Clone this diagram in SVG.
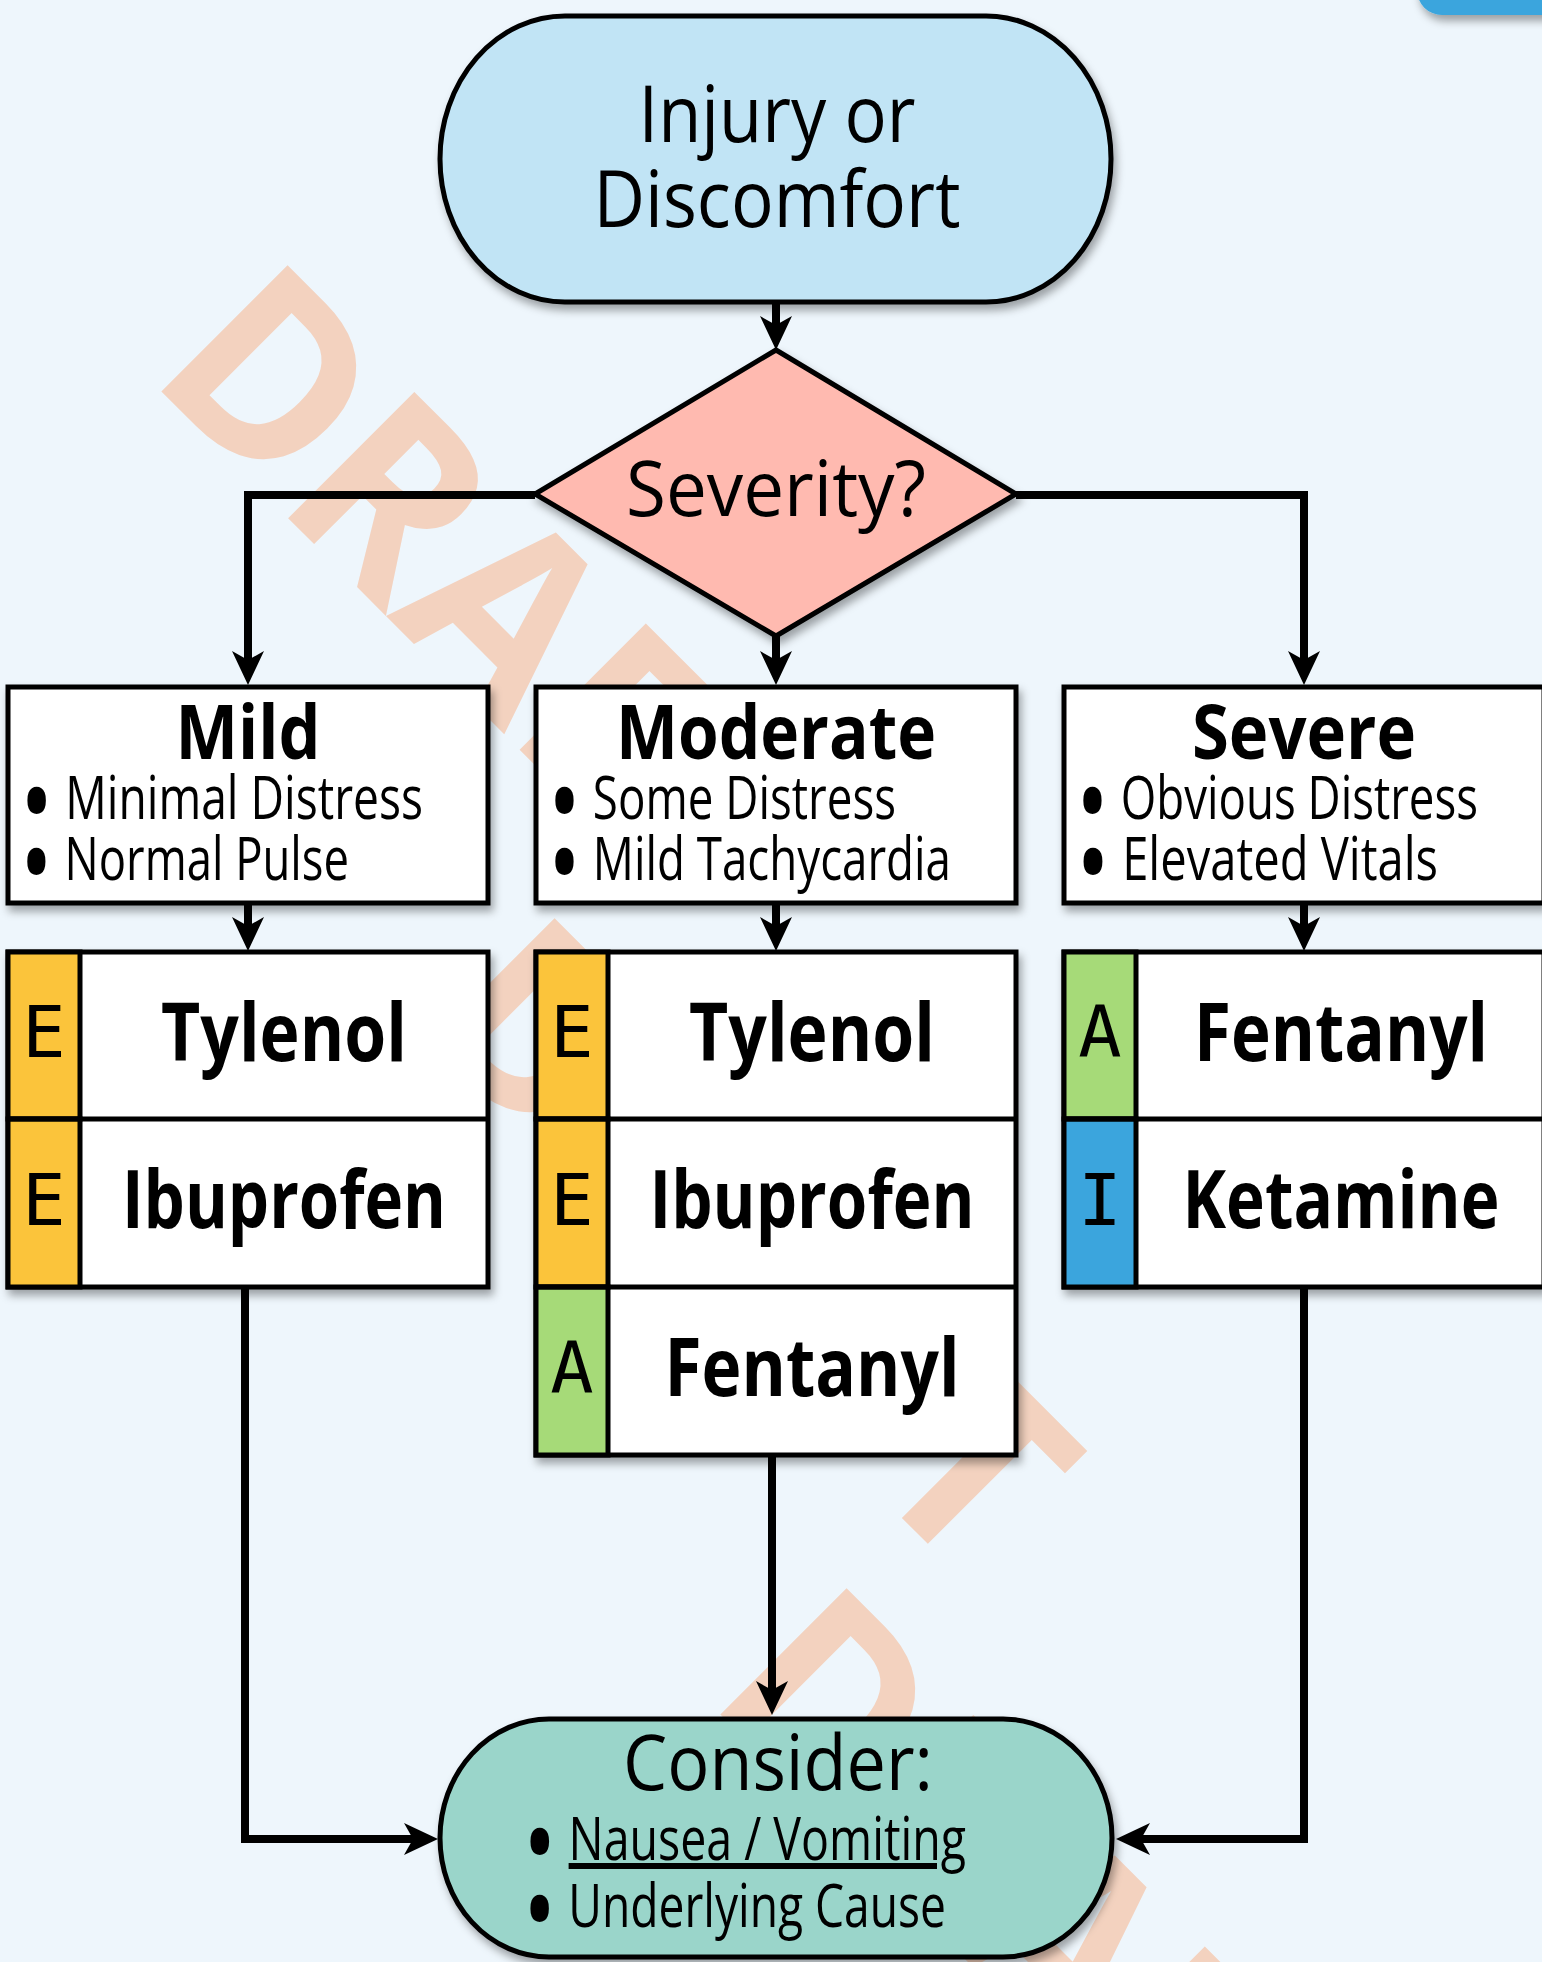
<svg xmlns="http://www.w3.org/2000/svg" width="1542" height="1962" viewBox="0 0 1542 1962">
<defs>
<style>
.node{stroke:#000;stroke-width:5;filter:url(#sh)}
.cell{stroke:#000;stroke-width:5}
.t{font-family:"Open Sans","Noto Sans","DejaVu Sans",sans-serif;fill:#000}
.b{font-weight:bold}
.bu{font-size:115px}
.mono{font-family:"DejaVu Sans Mono","Liberation Mono",monospace;fill:#000;font-size:72px;text-anchor:middle}
.c{text-anchor:middle}
.conn{fill:none;stroke:#000;stroke-width:8;stroke-linejoin:miter}
.wm{font-family:"Open Sans","DejaVu Sans",sans-serif;font-weight:bold;fill:#F3D2BF;font-size:250px}
</style>
<filter id="sh" x="-10%" y="-10%" width="130%" height="130%">
<feDropShadow dx="3" dy="6" stdDeviation="4" flood-color="#000" flood-opacity="0.35"/>
</filter>
<marker id="ah" markerUnits="userSpaceOnUse" markerWidth="40" markerHeight="40" viewBox="0 -20 40 40" refX="9" refY="0" orient="auto">
<path d="M0,-16 L34,0 L0,16 L9,0 Z" fill="#000"/>
</marker>
</defs>
<rect x="0" y="0" width="1542" height="1962" fill="#EEF6FC"/>
<g id="watermark">
<text class="wm" transform="translate(146,376) rotate(45)" textLength="780" lengthAdjust="spacingAndGlyphs">DRAFT</text>
<text class="wm" transform="translate(413,1029) rotate(45)" textLength="780" lengthAdjust="spacingAndGlyphs">DRAFT</text>
<text class="wm" transform="translate(705,1699) rotate(45)" textLength="780" lengthAdjust="spacingAndGlyphs">DRAFT</text>
</g>
<g id="corner-tab">
<rect x="1417" y="-60" width="200" height="75" rx="25" fill="#3BA5DD" filter="url(#sh)"/>
</g>
<g id="connectors">
<path class="conn" d="M776,303 V325" marker-end="url(#ah)"/>
<path class="conn" d="M535,495 H248 V660" marker-end="url(#ah)"/>
<path class="conn" d="M776,636 V660" marker-end="url(#ah)"/>
<path class="conn" d="M1016,495 H1304 V660" marker-end="url(#ah)"/>
<path class="conn" d="M248,903 V926" marker-end="url(#ah)"/>
<path class="conn" d="M776,903 V926" marker-end="url(#ah)"/>
<path class="conn" d="M1304,903 V926" marker-end="url(#ah)"/>
<path class="conn" d="M245,1287 V1839 H413" marker-end="url(#ah)"/>
<path class="conn" d="M772,1456 V1690" marker-end="url(#ah)"/>
<path class="conn" d="M1304,1287 V1839 H1141" marker-end="url(#ah)"/>
</g>
<g id="start">
<rect class="node" x="440" y="16" width="671" height="286" rx="125" ry="143" fill="#C1E4F5"/>
<text class="t c" x="777" y="141.5" font-size="79" textLength="277" lengthAdjust="spacingAndGlyphs">Injury or</text>
<text class="t c" x="777" y="226.5" font-size="79" textLength="367" lengthAdjust="spacingAndGlyphs">Discomfort</text>
</g>
<g id="severity">
<polygon class="node" points="776,350 1016,494 776,636 535,494" fill="#FFBAB0"/>
<text class="t c" x="776" y="516" font-size="76" textLength="300" lengthAdjust="spacingAndGlyphs">Severity?</text>
</g>
<g id="mild">
<rect class="node" x="8" y="687" width="480" height="216" fill="#FFF"/>
<text class="t b c" x="248" y="759" font-size="76" textLength="145" lengthAdjust="spacingAndGlyphs">Mild</text>
<text class="t" x="20" y="819" font-size="60" textLength="403" lengthAdjust="spacingAndGlyphs"><tspan class="bu" dy="24">•</tspan><tspan dy="-24"> Minimal Distress</tspan></text>
<text class="t" x="20" y="880" font-size="60" textLength="329" lengthAdjust="spacingAndGlyphs"><tspan class="bu" dy="24">•</tspan><tspan dy="-24"> Normal Pulse</tspan></text>
</g>
<g id="moderate">
<rect class="node" x="536" y="687" width="480" height="216" fill="#FFF"/>
<text class="t b c" x="776" y="759" font-size="76" textLength="320" lengthAdjust="spacingAndGlyphs">Moderate</text>
<text class="t" x="548" y="819" font-size="60" textLength="348" lengthAdjust="spacingAndGlyphs"><tspan class="bu" dy="24">•</tspan><tspan dy="-24"> Some Distress</tspan></text>
<text class="t" x="548" y="880" font-size="60" textLength="403" lengthAdjust="spacingAndGlyphs"><tspan class="bu" dy="24">•</tspan><tspan dy="-24"> Mild Tachycardia</tspan></text>
</g>
<g id="severe">
<rect class="node" x="1064" y="687" width="480" height="216" fill="#FFF"/>
<text class="t b c" x="1304" y="759" font-size="76" textLength="224" lengthAdjust="spacingAndGlyphs">Severe</text>
<text class="t" x="1076" y="819" font-size="60" textLength="402" lengthAdjust="spacingAndGlyphs"><tspan class="bu" dy="24">•</tspan><tspan dy="-24"> Obvious Distress</tspan></text>
<text class="t" x="1076" y="880" font-size="60" textLength="362" lengthAdjust="spacingAndGlyphs"><tspan class="bu" dy="24">•</tspan><tspan dy="-24"> Elevated Vitals</tspan></text>
</g>
<g id="mild-meds">
<rect class="node" x="8" y="952" width="480" height="335" fill="#FFF"/>
<rect class="cell" x="8" y="952" width="72" height="167" fill="#FBC43B"/>
<rect class="cell" x="8" y="1119" width="72" height="168" fill="#FBC43B"/>
<line class="cell" x1="8" y1="1119" x2="488" y2="1119"/>
<text class="mono" x="44" y="1057">E</text>
<text class="mono" x="44" y="1225">E</text>
<text class="t b c" x="284" y="1061" font-size="80" textLength="246" lengthAdjust="spacingAndGlyphs">Tylenol</text>
<text class="t b c" x="284" y="1228" font-size="80" textLength="324" lengthAdjust="spacingAndGlyphs">Ibuprofen</text>
</g>
<g id="moderate-meds">
<rect class="node" x="536" y="952" width="480" height="503" fill="#FFF"/>
<rect class="cell" x="536" y="952" width="72" height="167" fill="#FBC43B"/>
<rect class="cell" x="536" y="1119" width="72" height="168" fill="#FBC43B"/>
<rect class="cell" x="536" y="1287" width="72" height="168" fill="#A6DA78"/>
<line class="cell" x1="536" y1="1119" x2="1016" y2="1119"/>
<line class="cell" x1="536" y1="1287" x2="1016" y2="1287"/>
<text class="mono" x="572" y="1057">E</text>
<text class="mono" x="572" y="1225">E</text>
<text class="mono" x="572" y="1393">A</text>
<text class="t b c" x="812" y="1061" font-size="80" textLength="246" lengthAdjust="spacingAndGlyphs">Tylenol</text>
<text class="t b c" x="812" y="1228" font-size="80" textLength="325" lengthAdjust="spacingAndGlyphs">Ibuprofen</text>
<text class="t b c" x="812" y="1396" font-size="80" textLength="295" lengthAdjust="spacingAndGlyphs">Fentanyl</text>
</g>
<g id="severe-meds">
<rect class="node" x="1064" y="952" width="480" height="335" fill="#FFF"/>
<rect class="cell" x="1064" y="952" width="72" height="167" fill="#A6DA78"/>
<rect class="cell" x="1064" y="1119" width="72" height="168" fill="#3BA5DD"/>
<line class="cell" x1="1064" y1="1119" x2="1544" y2="1119"/>
<text class="mono" x="1100" y="1057">A</text>
<text class="mono" x="1100" y="1225">I</text>
<text class="t b c" x="1341" y="1061" font-size="80" textLength="294" lengthAdjust="spacingAndGlyphs">Fentanyl</text>
<text class="t b c" x="1341" y="1228" font-size="80" textLength="317" lengthAdjust="spacingAndGlyphs">Ketamine</text>
</g>
<g id="consider">
<rect class="node" x="440" y="1719" width="672" height="238" rx="109" ry="119" fill="#9AD5CA"/>
<text class="t c" x="778" y="1790" font-size="77" textLength="310" lengthAdjust="spacingAndGlyphs">Consider:</text>
<text class="t" x="523" y="1860" font-size="60" textLength="443" lengthAdjust="spacingAndGlyphs"><tspan class="bu" dy="24">•</tspan><tspan dy="-24"> </tspan><tspan text-decoration="underline">Nausea / Vomiting</tspan></text>
<text class="t" x="523" y="1927" font-size="60" textLength="423" lengthAdjust="spacingAndGlyphs"><tspan class="bu" dy="24">•</tspan><tspan dy="-24"> Underlying Cause</tspan></text>
</g>
</svg>
